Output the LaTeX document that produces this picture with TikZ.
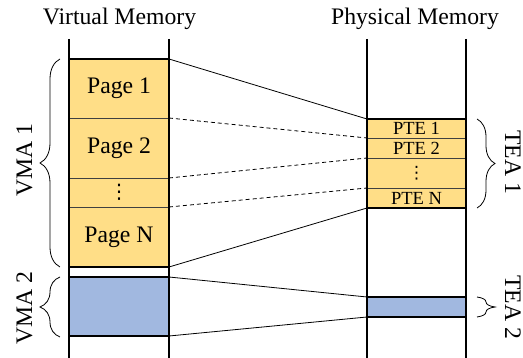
\documentclass[tikz,border=0pt]{standalone}
\usepackage{fontspec}
\setmainfont{Liberation Serif}
\newfontfamily\dotsfont{DejaVu Sans}
\usetikzlibrary{decorations.pathreplacing}
\definecolor{pageyellow}{RGB}{255,222,135}
\definecolor{pageblue}{RGB}{161,184,224}
\tikzset{
  vpage/.style={draw=black!75, line width=0.8pt, fill=pageyellow,
    minimum width=100pt, inner sep=0pt, outer sep=0pt},
  ppage/.style={vpage, minimum width=99pt, font=\fontsize{18.5}{20}\selectfont},
  colline/.style={line width=2pt},
  edgeline/.style={line width=1.6pt},
  link/.style={line width=0.8pt},
  weaklink/.style={link, dash pattern=on 4pt off 3pt},
  membrace/.style={decorate, decoration={brace, amplitude=#1}, line width=0.8pt},
}
\begin{document}
\begin{tikzpicture}[x=1pt, y=-1pt, font=\fontsize{23.7}{28}\selectfont]
  \useasboundingbox (0,0) rectangle (523,358);
  % titles
  \node[anchor=base] (vtitle) at (119.5,25) {Virtual Memory};
  \node[anchor=base] (ptitle) at (415,25) {Physical Memory};
  % virtual memory
  \node[vpage, minimum height=59pt] (p1) at (119,88.5) {Page 1};
  \node[vpage, minimum height=60pt] (p2) at (119,148) {Page 2};
  \node[vpage, minimum height=29pt, font=\dotsfont\fontsize{20}{20}\selectfont] (pd) at (119,192.5) {⋮};
  \node[vpage, minimum height=60pt] (pn) at (119,237) {Page N};
  \node[vpage, minimum height=59pt, fill=pageblue] (v2) at (119,306.5) {};
  % physical memory
  \node[ppage, minimum height=19pt] (e1) at (416.5,128.5) {PTE 1};
  \node[ppage, minimum height=20pt] (e2) at (416.5,148) {PTE 2};
  \node[ppage, minimum height=30pt, font=\dotsfont\fontsize{17}{17}\selectfont] (ed) at (416.5,173) {⋮};
  \node[ppage, minimum height=20pt] (en) at (416.5,198) {PTE N};
  \node[ppage, minimum height=20pt, fill=pageblue] (t2) at (416.5,307) {};
  % outer edges of the areas
  \draw[edgeline] (p1.north west) -- (p1.north east);
  \draw[edgeline] (pn.south west) -- (pn.south east);
  \draw[edgeline] (v2.north west) -- (v2.north east);
  \draw[edgeline] (v2.south west) -- (v2.south east);
  \draw[edgeline] (e1.north west) -- (e1.north east);
  \draw[edgeline] (en.south west) -- (en.south east);
  \draw[edgeline] (t2.north west) -- (t2.north east);
  \draw[edgeline] (t2.south west) -- (t2.south east);
  % columns
  \draw[colline] (69,39) -- (69,358);
  \draw[colline] (169,39) -- (169,358);
  \draw[colline] (367,39) -- (367,358);
  \draw[colline] (466,39) -- (466,358);
  % mappings
  \draw[link] (p1.north east) -- (e1.north west);
  \draw[weaklink] (p1.south east) -- (e1.south west);
  \draw[weaklink] (p2.south east) -- (e2.south west);
  \draw[weaklink] (pd.south east) -- (ed.south west);
  \draw[link] (pn.south east) -- (en.south west);
  \draw[link] (v2.north east) -- (t2.north west);
  \draw[link] (v2.south east) -- (t2.south west);
  % braces
  \draw[membrace=20pt] (60,267) -- (60,59);
  \draw[membrace=20pt] (60,337) -- (60,277);
  \draw[membrace=18pt] (477,119) -- (477,208);
  \draw[membrace=18pt] (477,297) -- (477,317);
  \node[rotate=90, anchor=base] (vma1) at (32,160) {VMA 1};
  \node[rotate=90, anchor=base] (vma2) at (32,308) {VMA 2};
  \node[rotate=-90, anchor=base] (tea1) at (505,162) {TEA 1};
  \node[rotate=-90, anchor=base] (tea2) at (505,307) {TEA 2};
\end{tikzpicture}
\end{document}
